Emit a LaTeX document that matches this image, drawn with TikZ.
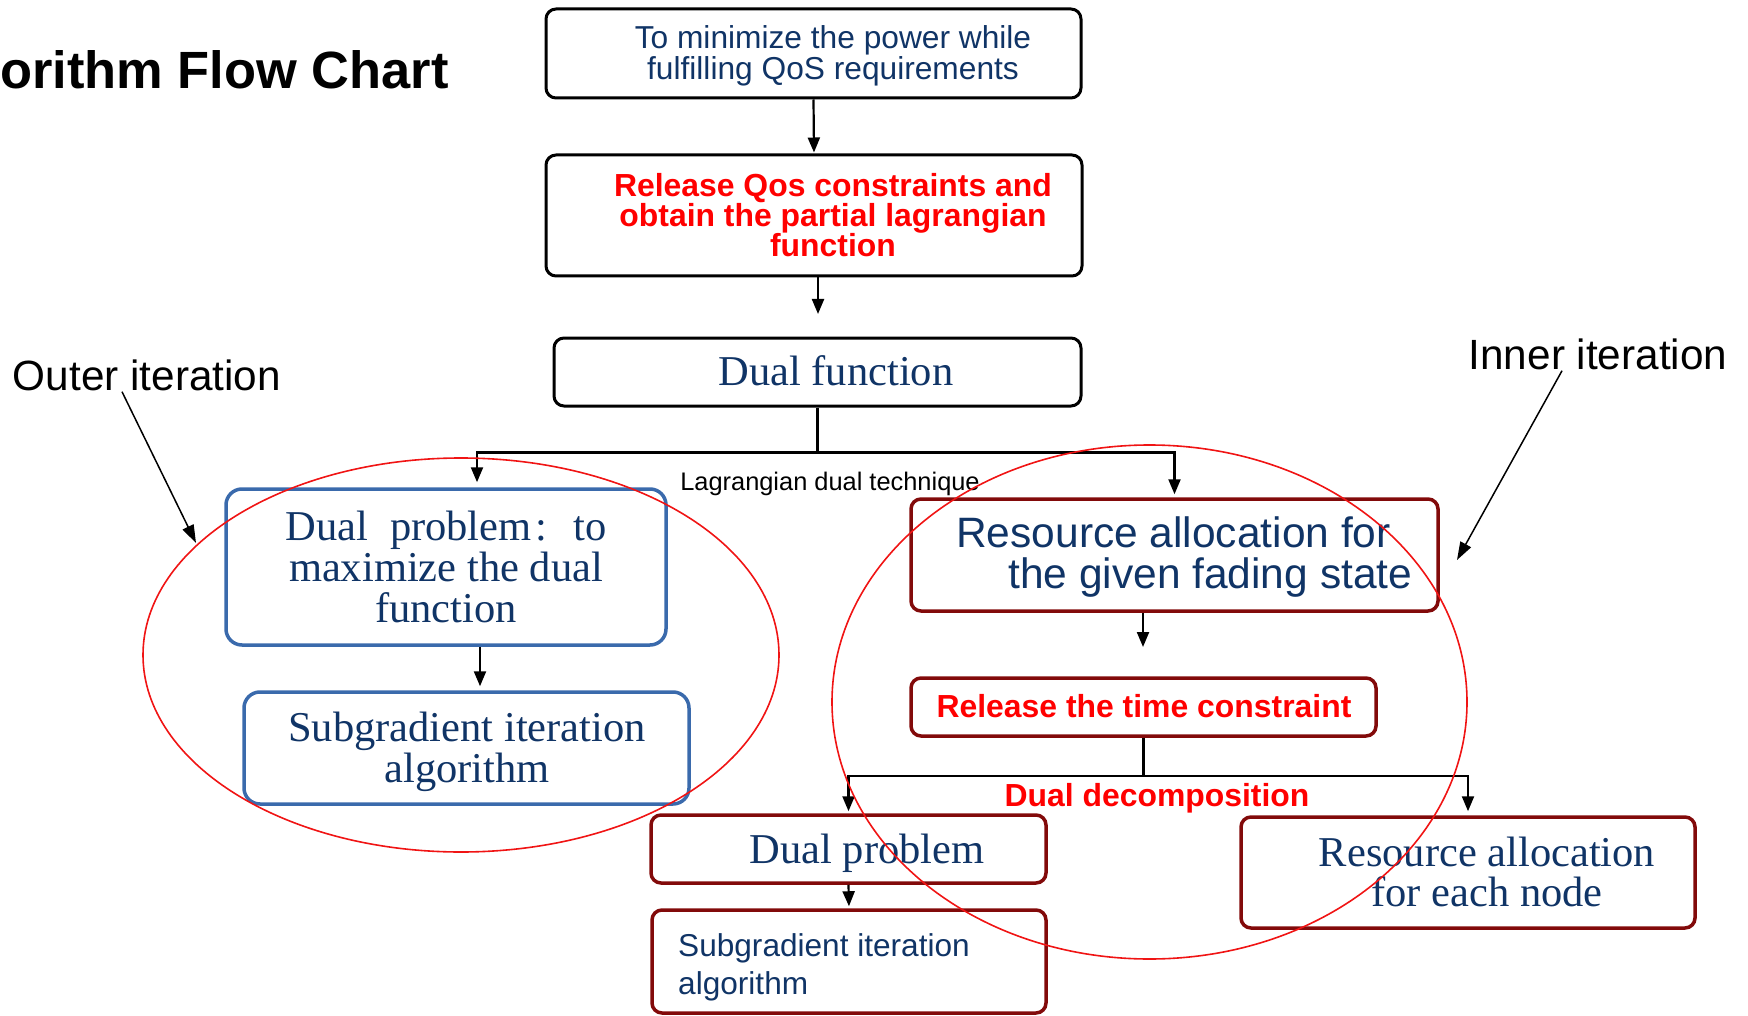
\documentclass[tikz,border=0pt]{standalone}
\usepackage{fontspec}
\setmainfont{Liberation Sans}
\newfontfamily\serifface{Liberation Serif}
\usetikzlibrary{arrows.meta}
\definecolor{navy}{RGB}{16,52,102}
\definecolor{boxblue}{RGB}{58,106,172}
\definecolor{darkred}{RGB}{130,10,10}
\definecolor{ringred}{RGB}{240,20,20}
\begin{document}
\begin{tikzpicture}[x=1pt,y=-1pt,
  blackbox/.style={draw=black, line width=3pt, rounded corners=10pt, inner sep=0pt},
  bluebox/.style={draw=boxblue, line width=3.5pt, rounded corners=16pt, inner sep=0pt},
  redbox/.style={draw=darkred, line width=3.5pt, rounded corners=10pt, inner sep=0pt},
  conn/.style={line width=2.2pt, -{Triangle[length=15pt,width=12pt]}},
  pointer/.style={line width=1.5pt, -{Triangle[length=18pt,width=12pt]}},
  ring/.style={draw=ringred, line width=1.6pt},
  txt/.style={inner sep=0pt, align=center},
  sanstxt/.style={txt, text=navy, font=\fontsize{31.7}{31}\selectfont},
  redtxt/.style={txt, text=red, font=\bfseries\fontsize{31.9}{30}\selectfont},
  serifbig/.style={txt, text=navy, font=\serifface\fontsize{42.5}{41}\selectfont},
  sansbig/.style={txt, text=navy, font=\fontsize{42.5}{41}\selectfont},
  note/.style={inner sep=0pt, font=\fontsize{42.3}{44}\selectfont},
]
\useasboundingbox (0,0) rectangle (1748,1016);

% heading
\node[anchor=base west, inner sep=0pt, font=\bfseries\fontsize{52.4}{60}\selectfont] (title) at (0,89) {orithm Flow Chart};

% main column
\node[blackbox, minimum width=535pt, minimum height=89pt] (goal) at (813.5,53.5) {};
\node[sanstxt] (goaltxt) at (833,55.5) {To minimize the power while\\fulfilling QoS requirements};

\node[blackbox, minimum width=536pt, minimum height=121pt] (relq) at (814,215.5) {};
\node[redtxt] (relqtxt) at (833,215) {Release Qos constraints and\\obtain the partial lagrangian\\function};

\node[blackbox, minimum width=527pt, minimum height=68pt] (dualf) at (817.5,372) {};
\node[serifbig] (dualftxt) at (836,371) {Dual function};

% outer iteration branch
\node[bluebox, minimum width=440pt, minimum height=156pt] (outerA) at (446,567) {};
\node[serifbig] (outerAtxt) at (446,567) {Dual\hspace{22pt}problem\hspace{4pt}:\hspace{26pt}to\\maximize the dual\\function};

\node[bluebox, minimum width=445pt, minimum height=112pt] (outerB) at (466.5,748) {};
\node[serifbig] (outerBtxt) at (467,751.5) {Subgradient iteration\\algorithm};

% inner iteration branch
\node[redbox, minimum width=527pt, minimum height=112pt] (resA) at (1174.5,555) {};
\node[sansbig, align=left, anchor=west] (resAtxt) at (956,557.5) {Resource allocation for\\\hspace*{52pt}the given fading state};

\node[redbox, minimum width=465pt, minimum height=58pt] (reltime) at (1143.5,707) {};
\node[redtxt] (reltimetxt) at (1144,706) {Release the time constraint};

\node[redbox, minimum width=395pt, minimum height=68pt] (dualprob) at (848.5,849) {};
\node[serifbig] (dualprobtxt) at (867,853.5) {Dual problem};

\node[redbox, minimum width=394pt, minimum height=103pt] (subB) at (849,961.5) {};
\node[sanstxt, align=left, anchor=west, font=\fontsize{31.6}{38}\selectfont] (subBtxt) at (678,967.5) {Subgradient iteration\\algorithm};

\node[redbox, minimum width=454pt, minimum height=111pt] (resnode) at (1468,872.5) {};
\node[serifbig, font=\serifface\fontsize{42.5}{40}\selectfont] (resnodetxt) at (1487,872) {Resource allocation\\for each node};

% branch labels
\node[inner sep=0pt, font=\fontsize{25.4}{28}\selectfont] (lagr) at (830,484) {Lagrangian dual technique};
\node[redtxt] (decomp) at (1157,798.5) {Dual decomposition};

% side labels
\node[note] (outerlbl) at (147,375) {Outer iteration};
\node[note] (innerlbl) at (1598,354) {Inner iteration};

% connectors
\draw[conn, shorten >=1pt] (goal.south) -- (relq.north);
\coordinate (dualfin) at (818,314);
\draw[conn] ([xshift=4pt]relq.south) -- (dualfin);

\draw[conn, shorten >=5pt] (dualf.south) -- ++(0,45) -| ([xshift=31pt]outerA.north);
\draw[conn, shorten >=3pt] (dualf.south) ++(0,45) -| (resA.north);

\draw[conn, shorten >=4pt] ([xshift=34pt]outerA.south) -- ([xshift=34pt]outerA.south |- outerB.north);

\coordinate (resfin) at (1143,647);
\draw[conn] ([xshift=-31.5pt]resA.south) -- (resfin);

\draw[conn, shorten >=2pt] (reltime.south) -- ++(0,38) -| (dualprob.north);
\draw[conn, shorten >=4pt] (reltime.south) ++(0,38) -| (resnode.north);

\draw[conn, shorten >=2pt] (dualprob.south) -- (subB.north);

% pointers from the side labels
\coordinate (outertip) at (196,543);
\draw[pointer] ([xshift=-25pt,yshift=-1pt]outerlbl.south) -- (outertip);
\coordinate (innertip) at (1457,560);
\draw[pointer] ([xshift=-36pt,yshift=-1pt]innerlbl.south) -- (innertip);

% iteration rings
\draw[ring] (461,655) ellipse [x radius=318pt, y radius=197pt];
\draw[ring] (1149.5,702) ellipse [x radius=317.5pt, y radius=257pt];
\end{tikzpicture}
\end{document}
